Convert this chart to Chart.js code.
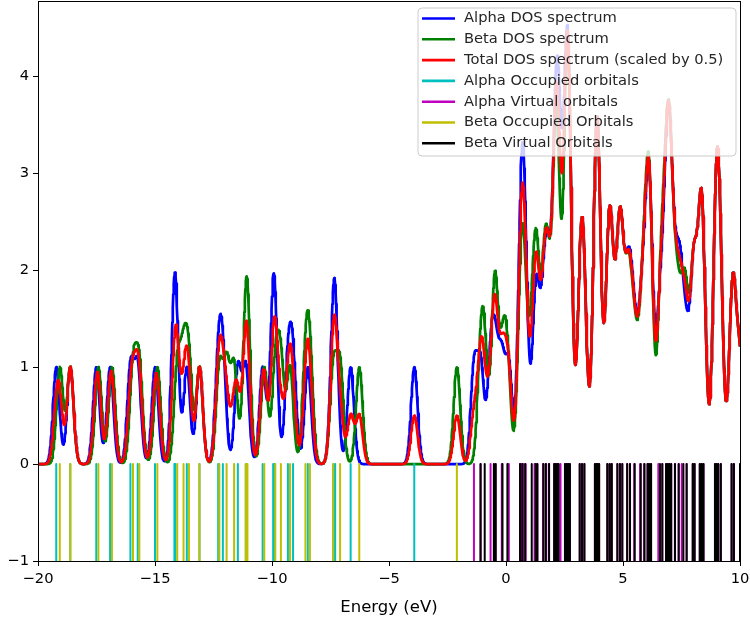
<!DOCTYPE html>
<html>
<head>
<meta charset="utf-8">
<script src="https://cdn.jsdelivr.net/npm/chart.js@4.4.0/dist/chart.umd.min.js"></script>
<style>
  body { margin: 0; background: #fff; }
  canvas { display: block; }
</style>
</head>
<body>
<canvas id="dosChart" width="750" height="618"></canvas>
<script>
// orbital energies in eV
const alphaOccupied = [-19.22, -18.62, -17.51, -16.92, -16.05, -15.74, -15.00, -14.17, -14.13, -13.64,
    -13.10, -12.30, -12.10, -11.46, -11.12, -10.40, -9.95, -9.90, -9.32, -9.10, -8.47, -7.38, -7.30,
    -6.64, -3.92];
const alphaVirtual = [-1.37, -1.08, -0.66, -0.45, -0.18, 0.12, 0.60, 0.67, 0.74, 0.84, 1.22, 1.34,
    1.58, 1.72, 1.84, 2.06, 2.12, 2.18, 2.24, 2.33, 2.52, 2.58, 2.63, 2.68, 2.73, 3.15, 3.25, 3.35,
    3.80, 3.86, 3.92, 3.98, 4.33, 4.43, 4.52, 4.76, 4.87, 4.97, 5.18, 5.30, 5.48, 5.73, 5.90, 6.05,
    6.12, 6.20, 6.51, 6.68, 6.84, 6.91, 6.98, 7.06, 7.22, 7.38, 7.51, 7.72, 7.98, 8.06, 8.28, 8.36,
    8.44, 8.93, 9.00, 9.07, 9.18, 9.64, 9.74, 10.00];
const betaOccupied = [-19.07, -18.62, -17.42, -16.84, -15.94, -15.67, -14.90, -14.05, -13.78, -13.55,
    -13.10, -12.25, -11.94, -11.62, -11.12, -11.05, -10.33, -9.86, -9.62, -9.23, -8.57, -8.38, -7.38,
    -7.09, -6.27, -2.10];
const betaVirtual = [-1.09, -0.91, -0.52, -0.44, -0.15, 0.06, 0.60, 0.70, 0.82, 1.10, 1.27, 1.34,
    1.60, 1.70, 1.84, 2.06, 2.12, 2.18, 2.24, 2.52, 2.58, 2.63, 2.68, 2.73, 3.15, 3.25, 3.35, 3.80,
    3.86, 3.92, 3.98, 4.33, 4.43, 4.52, 4.76, 4.87, 4.97, 5.18, 5.30, 5.50, 5.76, 5.92, 6.05, 6.12,
    6.20, 6.58, 6.68, 6.84, 6.91, 6.98, 7.06, 7.22, 7.38, 7.58, 7.72, 7.98, 8.06, 8.28, 8.36, 8.44,
    8.93, 9.00, 9.07, 9.18, 9.64, 9.74, 10.00];

const xTicks = [-20, -15, -10, -5, 0, 5, 10];
const yTicks = [-1, 0, 1, 2, 3, 4];

const seriesLabels = [
    "Alpha DOS spectrum", "Beta DOS spectrum", "Total DOS spectrum (scaled by 0.5)",
    "Alpha Occupied orbitals", "Alpha Virtual orbitals", "Beta Occupied Orbitals", "Beta Virtual Orbitals"
];
const seriesColors = ["#0000ff", "#008000", "#ff0000", "#00bfbf", "#bf00bf", "#bfbf00", "#000000"];

// the spectra are the orbital lists broadened with a gaussian, same as the original plot
const sigma = 0.14;
const eStart = -20, eEnd = 10, eStep = 0.02;

const broaden = (levels, scale) => {
    const pts = [];
    for (let k = 0; eStart + k * eStep <= eEnd + 1e-9; k++) {
        const e = eStart + k * eStep;
        let s = 0;
        levels.forEach(l => { s += Math.exp(-((e - l) ** 2) / (2 * sigma * sigma)); });
        pts.push({ x: e, y: s * scale });
    }
    return pts;
};

const sticks = levels => {
    const pts = [];
    levels.forEach(l => { pts.push({ x: l, y: 0 }, { x: l, y: -1 }, { x: l, y: null }); });
    return pts;
};

const alphaAll = alphaOccupied.concat(alphaVirtual);
const betaAll = betaOccupied.concat(betaVirtual);

const tickFont = { family: "'DejaVu Sans', sans-serif", size: 14.7 };
const titleFont = { family: "'DejaVu Sans', sans-serif", size: 16.5 };
const minus = v => (v < 0 ? "\u2212" + Math.abs(v) : String(v));

const framePlugin = {
    id: "frame",
    afterDraw(chart) {
        const { ctx, chartArea: a } = chart;
        ctx.save();
        ctx.strokeStyle = "#000";
        ctx.lineWidth = 1;
        ctx.strokeRect(a.left + 0.5, a.top + 0.5, a.right - a.left, a.bottom - a.top);
        ctx.restore();
    }
};

const legendPlugin = {
    id: "boxLegend",
    afterDraw(chart) {
        const ctx = chart.ctx;
        const x0 = 418, y0 = 8, w = 318, h = 148, r = 4;
        ctx.save();
        ctx.beginPath();
        ctx.moveTo(x0 + r, y0);
        ctx.arcTo(x0 + w, y0, x0 + w, y0 + h, r);
        ctx.arcTo(x0 + w, y0 + h, x0, y0 + h, r);
        ctx.arcTo(x0, y0 + h, x0, y0, r);
        ctx.arcTo(x0, y0, x0 + w, y0, r);
        ctx.closePath();
        ctx.fillStyle = "rgba(255,255,255,0.8)";
        ctx.fill();
        ctx.strokeStyle = "#cccccc";
        ctx.lineWidth = 1;
        ctx.stroke();
        ctx.font = "14.7px 'DejaVu Sans'";
        ctx.textBaseline = "middle";
        seriesLabels.forEach((label, i) => {
            const y = 18.5 + i * 20.8;
            ctx.strokeStyle = seriesColors[i];
            ctx.lineWidth = 2.6;
            ctx.beginPath();
            ctx.moveTo(422, y);
            ctx.lineTo(455, y);
            ctx.stroke();
            ctx.fillStyle = "#262626";
            ctx.fillText(label, 464, y);
        });
        ctx.restore();
    }
};

const lineSet = (i, data, order) => ({
    label: seriesLabels[i],
    data: data,
    borderColor: seriesColors[i],
    borderWidth: i < 3 ? 2.7 : 2,
    borderJoinStyle: "round",
    pointRadius: 0,
    fill: false,
    spanGaps: false,
    order: order
});

new Chart("dosChart", {
    type: "line",
    data: {
        datasets: [
            lineSet(0, broaden(alphaAll, 1), 7),
            lineSet(1, broaden(betaAll, 1), 6),
            lineSet(2, broaden(alphaAll.concat(betaAll), 0.5), 5),
            lineSet(3, sticks(alphaOccupied), 4),
            lineSet(4, sticks(alphaVirtual), 3),
            lineSet(5, sticks(betaOccupied), 2),
            lineSet(6, sticks(betaVirtual), 1)
        ]
    },
    options: {
        responsive: false,
        animation: false,
        devicePixelRatio: 1,
        layout: { padding: { top: 1, right: 10, left: 0, bottom: 0 } },
        plugins: { legend: { display: false }, tooltip: { enabled: false } },
        scales: {
            x: {
                type: "linear",
                min: -20,
                max: 10,
                afterBuildTicks: s => { s.ticks = xTicks.map(v => ({ value: v })); },
                afterFit: s => { s.height = 57; s.paddingLeft = 0; s.paddingRight = 0; },
                ticks: { font: tickFont, color: "#000", padding: 4, maxRotation: 0, callback: minus },
                grid: { drawOnChartArea: false, tickLength: 5, color: "#000" },
                border: { display: true, color: "#000" },
                title: { display: true, text: "Energy (eV)", font: titleFont, color: "#000", padding: { top: 0, bottom: 0 } }
            },
            y: {
                type: "linear",
                min: -1,
                max: 4.78,
                afterBuildTicks: s => { s.ticks = yTicks.map(v => ({ value: v })); },
                afterFit: s => { s.width = 38; s.paddingTop = 0; s.paddingBottom = 0; },
                ticks: { font: tickFont, color: "#000", padding: 4, callback: minus },
                grid: { drawOnChartArea: false, tickLength: 5, color: "#000" },
                border: { display: true, color: "#000" }
            }
        }
    },
    plugins: [framePlugin, legendPlugin]
});
</script>
</body>
</html>
